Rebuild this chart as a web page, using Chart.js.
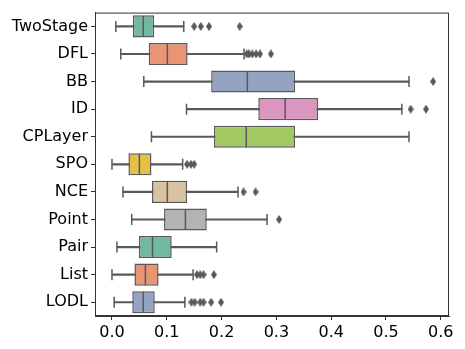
<!DOCTYPE html>
<html>
<head>
<meta charset="utf-8">
<script src="https://cdn.jsdelivr.net/npm/chart.js@4/dist/chart.umd.min.js"></script>
<style>
  html, body { margin: 0; padding: 0; background: #fff; }
</style>
</head>
<body>
<canvas id="boites" width="465" height="349"></canvas>
<script>
// Données
const categories = ["TwoStage", "DFL", "BB", "ID", "CPLayer", "SPO", "NCE", "Point", "Pair", "List", "LODL"];
const basMoustache = [0.007, 0.016, 0.058, 0.136, 0.072, 0.000, 0.020, 0.036, 0.009, 0.000, 0.004];
const q1 = [0.038, 0.067, 0.181, 0.267, 0.186, 0.030, 0.073, 0.095, 0.049, 0.041, 0.037];
const mediane = [0.057, 0.101, 0.247, 0.316, 0.245, 0.050, 0.101, 0.134, 0.074, 0.061, 0.057];
const q3 = [0.077, 0.138, 0.334, 0.376, 0.334, 0.072, 0.137, 0.173, 0.109, 0.085, 0.078];
const hautMoustache = [0.131, 0.241, 0.542, 0.529, 0.542, 0.129, 0.230, 0.283, 0.191, 0.148, 0.133];
const valeursAberrantes = [
  [0.150, 0.162, 0.177, 0.233],
  [0.246, 0.250, 0.256, 0.263, 0.270, 0.290],
  [0.586],
  [0.545, 0.573],
  [],
  [0.137, 0.144, 0.150],
  [0.240, 0.262],
  [0.305],
  [],
  [0.155, 0.161, 0.167, 0.186],
  [0.145, 0.151, 0.161, 0.167, 0.181, 0.199]
];
const ticksX = [0, 0.1, 0.2, 0.3, 0.4, 0.5, 0.6];

const couleurs = ["#71b7a1", "#e99575", "#95a3c3", "#db96c0", "#a2c864", "#e5c049",
                  "#dbc29e", "#b3b3b3", "#71b7a1", "#e99575", "#95a3c3"];
const gris = "#595959";

// marqueur losange fin (comme le 'd' de matplotlib)
const losange = document.createElement("canvas");
losange.width = 6; losange.height = 9;
const lctx = losange.getContext("2d");
lctx.fillStyle = gris;
lctx.beginPath();
lctx.moveTo(3, 0); lctx.lineTo(6, 4.5); lctx.lineTo(3, 9); lctx.lineTo(0, 4.5);
lctx.closePath();
lctx.fill();

const pointsMediane = categories.map((c, i) => ({ x: mediane[i], y: c }));
const pointsBouts = [];
categories.forEach((c, i) => {
  pointsBouts.push({ x: basMoustache[i], y: c });
  pointsBouts.push({ x: hautMoustache[i], y: c });
});
const pointsAberrants = [];
categories.forEach((c, i) => {
  valeursAberrantes[i].forEach(v => pointsAberrants.push({ x: v, y: c }));
});

// cadre autour de la zone du graphique
const cadre = {
  id: "cadre",
  afterDraw(chart) {
    const a = chart.chartArea;
    const ctx = chart.ctx;
    ctx.save();
    ctx.strokeStyle = "#333";
    ctx.lineWidth = 1;
    ctx.strokeRect(a.left + 0.5, a.top + 0.5, a.right - a.left - 1, a.bottom - a.top - 1);
    ctx.restore();
  }
};

const police = { family: "DejaVu Sans", size: 16 };

new Chart(document.getElementById("boites"), {
  type: "bar",
  data: {
    labels: categories,
    datasets: [
      {
        label: "moustaches",
        data: categories.map((c, i) => [basMoustache[i], hautMoustache[i]]),
        backgroundColor: gris,
        borderWidth: 0,
        barThickness: 1.5,
        grouped: false,
        order: 3
      },
      {
        label: "boites",
        data: categories.map((c, i) => [q1[i], q3[i]]),
        backgroundColor: couleurs,
        borderColor: gris,
        borderWidth: 1.5,
        borderSkipped: false,
        barPercentage: 0.8,
        categoryPercentage: 1,
        grouped: false,
        order: 2
      },
      {
        type: "scatter",
        label: "medianes",
        data: pointsMediane,
        pointStyle: "line",
        rotation: 90,
        radius: 10.5,
        borderColor: gris,
        borderWidth: 1.5,
        order: 1
      },
      {
        type: "scatter",
        label: "bouts",
        data: pointsBouts,
        pointStyle: "line",
        rotation: 90,
        radius: 5.5,
        borderColor: gris,
        borderWidth: 1.5,
        order: 1
      },
      {
        type: "scatter",
        label: "aberrants",
        data: pointsAberrants,
        pointStyle: losange,
        order: 0
      }
    ]
  },
  options: {
    indexAxis: "y",
    responsive: false,
    animation: false,
    devicePixelRatio: 1,
    layout: { padding: { top: 10, right: 16, left: 0, bottom: 0 } },
    plugins: {
      legend: { display: false },
      tooltip: { enabled: false }
    },
    scales: {
      x: {
        type: "linear",
        min: -0.031,
        max: 0.615,
        offset: false,
        afterBuildTicks: scale => { scale.ticks = ticksX.map(v => ({ value: v })); },
        afterFit: scale => { scale.height = 33; },
        grid: { display: true, drawOnChartArea: false, offset: false, tickLength: 4, color: "#333" },
        border: { display: true, color: "#333" },
        ticks: {
          color: "#000",
          font: police,
          padding: 3,
          maxRotation: 0,
          callback: v => v.toFixed(1)
        }
      },
      y: {
        type: "category",
        offset: true,
        afterFit: scale => { scale.width = 95; },
        grid: { display: true, drawOnChartArea: false, offset: false, tickLength: 4, color: "#333" },
        border: { display: true, color: "#333" },
        ticks: {
          color: "#000",
          font: police,
          padding: 3
        }
      }
    }
  },
  plugins: [cadre]
});
</script>
</body>
</html>
